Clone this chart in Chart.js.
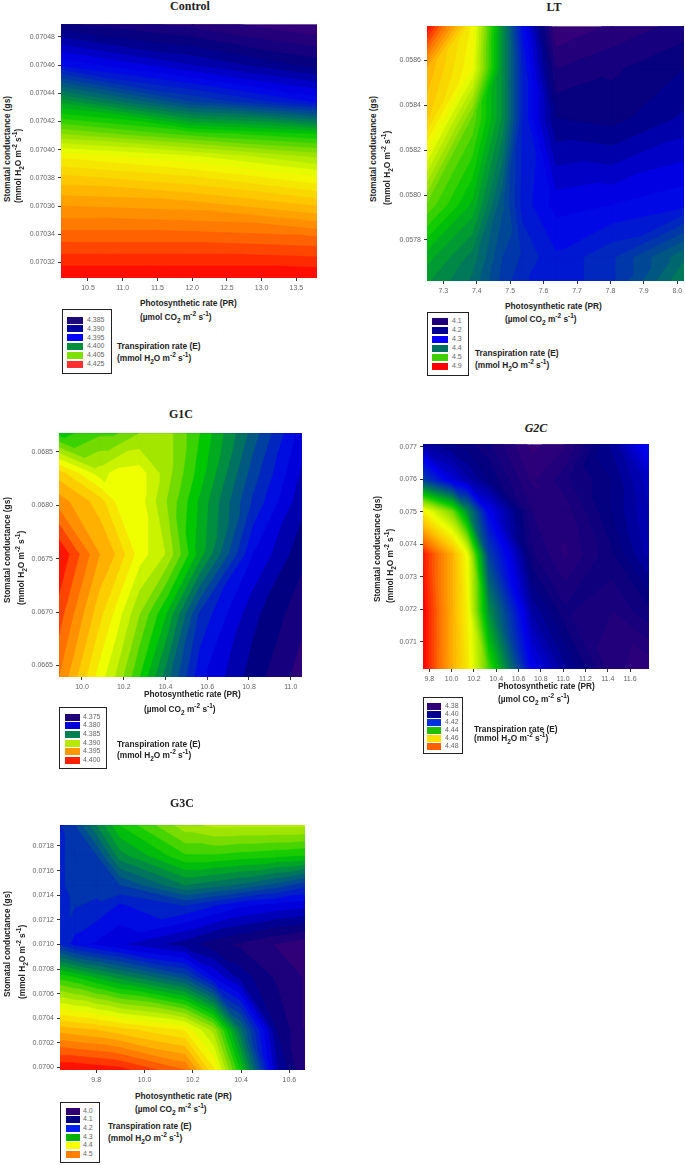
<!DOCTYPE html>
<html>
<head>
<meta charset="utf-8">
<title>Transpiration rate contour plots</title>
<script src="https://cdn.jsdelivr.net/npm/chart.js@4/dist/chart.umd.min.js"></script>
<style>
  html, body { margin: 0; padding: 0; background: #fff; }
  #page { position: relative; width: 685px; height: 1165px; overflow: hidden; font-family: "Liberation Sans", Arial, sans-serif; }
  canvas { position: absolute; }
  .title { position: absolute; font: bold 12px "Liberation Serif", serif; color: #222; transform: translate(-50%, -50%); white-space: nowrap; }
  .axis { position: absolute; font-size: 8.3px; font-weight: bold; line-height: 10px; height: 10px; color: #222; white-space: nowrap; }
  .axis.rot { transform-origin: left top; transform: rotate(-90deg); }
  .axis sup, .axis sub { font-size: 6.5px; line-height: 0; }
  .legend { position: absolute; box-sizing: border-box; border: 1.5px solid #222; background: #fff; }
  .swatch { position: absolute; height: 7px; }
  .lab { position: absolute; font-size: 7px; line-height: 8px; height: 8px; color: #666; white-space: nowrap; }
</style>
</head>
<body>
<div id="page"></div>
<script>
// colour ramp shared by all plots, low to high
const rampColors = ["#3a0078", "#000080", "#0000f0", "#0040a0", "#008050", "#00c800", "#90e000", "#f0ff00", "#ffc000", "#ff7000", "#ff0000"];

// Control
const controlX = [10.112, 12.0, 13.796];
const controlY = [0.070489, 0.07046, 0.070434, 0.070411, 0.070395, 0.070381, 0.07036, 0.070336, 0.070309];
const controlZ = [
  [4.3882, 4.3866, 4.385],
  [4.3938, 4.391, 4.3886],
  [4.4026, 4.397, 4.3938],
  [4.409, 4.4066, 4.405],
  [4.4138, 4.4122, 4.4098],
  [4.4162, 4.415, 4.413],
  [4.419, 4.4186, 4.417],
  [4.4218, 4.4218, 4.4214],
  [4.425, 4.425, 4.425],
];
const controlXTicks = ["10.5", "11.0", "11.5", "12.0", "12.5", "13.0", "13.5"];
const controlYTicks = ["0.07048", "0.07046", "0.07044", "0.07042", "0.07040", "0.07038", "0.07036", "0.07034", "0.07032"];
const controlLegend = ["4.385", "4.390", "4.395", "4.400", "4.405", "4.425"];
const controlLegendColors = ["#1c0a78", "#0000a0", "#0000ff", "#00903c", "#80e000", "#ff3030"];

// LT
const ltX = [7.251, 7.386, 7.476, 7.536, 7.636, 7.805, 8.02];
const ltY = [0.058753, 0.058563, 0.058342, 0.057958, 0.057722, 0.057617];
const ltZ = [
  [4.9, 4.676, 4.436, 4.276, 4.1, 4.124, 4.148],
  [4.756, 4.66, 4.436, 4.3, 4.14, 4.156, 4.18],
  [4.724, 4.556, 4.436, 4.3, 4.18, 4.172, 4.204],
  [4.556, 4.476, 4.364, 4.292, 4.252, 4.26, 4.276],
  [4.468, 4.412, 4.34, 4.316, 4.284, 4.316, 4.396],
  [4.444, 4.396, 4.332, 4.304, 4.284, 4.316, 4.42],
];
const ltXTicks = ["7.3", "7.4", "7.5", "7.6", "7.7", "7.8", "7.9", "8.0"];
const ltYTicks = ["0.0586", "0.0584", "0.0582", "0.0580", "0.0578"];
const ltLegend = ["4.1", "4.2", "4.3", "4.4", "4.5", "4.9"];
const ltLegendColors = ["#200078", "#000090", "#0000ff", "#007060", "#40d000", "#ff0000"];

// G1C
const g1cX = [9.89, 10.085, 10.157, 10.276, 10.404, 10.564, 10.819, 11.054];
const g1cY = [0.068676, 0.068299, 0.068036, 0.067542, 0.066985, 0.066392];
const g1cZ = [
  [4.3875, 4.3888, 4.3888, 4.39, 4.3905, 4.388, 4.3835, 4.3795],
  [4.3945, 4.3915, 4.3923, 4.3925, 4.3905, 4.3875, 4.3825, 4.3788],
  [4.3965, 4.3945, 4.393, 4.3925, 4.39, 4.3868, 4.3818, 4.3783],
  [4.4, 4.396, 4.395, 4.3925, 4.3909, 4.3865, 4.38, 4.3773],
  [4.3985, 4.3943, 4.3928, 4.39, 4.387, 4.3818, 4.3783, 4.3763],
  [4.397, 4.3925, 4.391, 4.388, 4.3845, 4.3803, 4.3775, 4.3755],
];
const g1cXTicks = ["10.0", "10.2", "10.4", "10.6", "10.8", "11.0"];
const g1cYTicks = ["0.0685", "0.0680", "0.0675", "0.0670", "0.0665"];
const g1cLegend = ["4.375", "4.380", "4.385", "4.390", "4.395", "4.400"];
const g1cLegendColors = ["#200078", "#0000d8", "#008050", "#b8e800", "#ff9800", "#ff2000"];

// G2C
const g2cX = [9.743, 10.003, 10.137, 10.331, 10.719, 11.018, 11.436, 11.77];
const g2cY = [0.077081, 0.075982, 0.075014, 0.07369, 0.071959, 0.070157];
const g2cZ = [
  [4.3956, 4.392, 4.3908, 4.3884, 4.3812, 4.3836, 4.3944, 4.4064],
  [4.416, 4.4016, 4.3968, 4.392, 4.3836, 4.3872, 4.392, 4.3992],
  [4.4664, 4.4496, 4.4304, 4.404, 4.386, 4.3848, 4.392, 4.398],
  [4.4976, 4.4784, 4.464, 4.416, 4.3884, 4.3836, 4.3896, 4.3968],
  [4.5, 4.4784, 4.4664, 4.4304, 4.3956, 4.3884, 4.386, 4.3896],
  [4.5, 4.4784, 4.4688, 4.446, 4.404, 4.3944, 4.3848, 4.3824],
];
const g2cXTicks = ["9.8", "10.0", "10.2", "10.4", "10.6", "10.8", "11.0", "11.2", "11.4", "11.6"];
const g2cYTicks = ["0.077", "0.076", "0.075", "0.074", "0.073", "0.072", "0.071"];
const g2cLegend = ["4.38", "4.40", "4.42", "4.44", "4.46", "4.48"];
const g2cLegendColors = ["#300078", "#000090", "#0030e0", "#20c000", "#ffe000", "#ff6000"];

// G3C
const g3cX = [9.65, 9.713, 9.803, 9.899, 10.168, 10.286, 10.396, 10.548, 10.665];
const g3cY = [0.071969, 0.071725, 0.071483, 0.071323, 0.071001, 0.070732, 0.070303, 0.069979];
const g3cZ = [
  [4.156, 4.18, 4.24, 4.3, 4.372, 4.384, 4.384, 4.384, 4.384],
  [4.156, 4.168, 4.18, 4.252, 4.318, 4.318, 4.312, 4.306, 4.3],
  [4.156, 4.168, 4.168, 4.18, 4.24, 4.228, 4.216, 4.192, 4.168],
  [4.156, 4.162, 4.156, 4.138, 4.162, 4.144, 4.126, 4.114, 4.108],
  [4.156, 4.132, 4.117, 4.102, 4.069, 4.048, 4.036, 4.018, 4.006],
  [4.312, 4.3, 4.276, 4.252, 4.192, 4.12, 4.072, 4.036, 4.018],
  [4.492, 4.486, 4.48, 4.468, 4.438, 4.372, 4.228, 4.06, 4.018],
  [4.6, 4.6, 4.594, 4.588, 4.54, 4.444, 4.3, 4.084, 4.018],
];
const g3cXTicks = ["9.8", "10.0", "10.2", "10.4", "10.6"];
const g3cYTicks = ["0.0718", "0.0716", "0.0714", "0.0712", "0.0710", "0.0708", "0.0706", "0.0704", "0.0702", "0.0700"];
const g3cLegend = ["4.0", "4.1", "4.2", "4.3", "4.4", "4.5"];
const g3cLegendColors = ["#300070", "#000080", "#0020f0", "#00b000", "#ffff00", "#ff8000"];

const panels = [
  {
    title: "Control", xs: controlX, ys: controlY, zs: controlZ, xTicks: controlXTicks, yTicks: controlYTicks,
    legend: controlLegend, legendColors: controlLegendColors, zLow: 4.385, zHigh: 4.425, bands: 40,
    plot: { l: 61.3, t: 22.3, r: 317.7, b: 278.3 }, xMin: 10.112, xMax: 13.796, yMin: 0.070309, yMax: 0.070489,
    titlePos: [190, 6], yTitle: [[7, 202], [18, 203]], xTitle: [140, 298, 312],
    box: { l: 62, t: 309, r: 112, b: 374, sw: 67, sww: 16, lab: 87, rows: [320, 328.5, 337.5, 346, 355, 364] },
    legendTitle: [117, 341, 353],
  },
  {
    title: "LT", xs: ltX, ys: ltY, zs: ltZ, xTicks: ltXTicks, yTicks: ltYTicks,
    legend: ltLegend, legendColors: ltLegendColors, zLow: 4.1, zHigh: 4.9, bands: 40,
    plot: { l: 426.7, t: 23.7, r: 683.3, b: 280.3 }, xMin: 7.251, xMax: 8.02, yMin: 0.057617, yMax: 0.058753,
    titlePos: [554, 7], yTitle: [[373, 202], [387, 205]], xTitle: [505, 301, 314],
    box: { l: 427, t: 312, r: 469, b: 376, sw: 432, sww: 16, lab: 452, rows: [321, 330, 339, 348, 357, 366] },
    legendTitle: [475, 348, 360],
  },
  {
    title: "G1C", xs: g1cX, ys: g1cY, zs: g1cZ, xTicks: g1cXTicks, yTicks: g1cYTicks,
    legend: g1cLegend, legendColors: g1cLegendColors, zLow: 4.375, zHigh: 4.4, bands: 25,
    plot: { l: 59.3, t: 431, r: 302.3, b: 677.3 }, xMin: 9.89, xMax: 11.054, yMin: 0.066392, yMax: 0.068676,
    titlePos: [181, 414], yTitle: [[7, 603], [21, 605]], xTitle: [144, 689, 704],
    box: { l: 59, t: 707, r: 107, b: 769, sw: 65, sww: 15, lab: 83, rows: [717, 725, 734, 743, 751, 760] },
    legendTitle: [117, 739, 750],
  },
  {
    title: "G2C", italic: true, xs: g2cX, ys: g2cY, zs: g2cZ, xTicks: g2cXTicks, yTicks: g2cYTicks,
    legend: g2cLegend, legendColors: g2cLegendColors, zLow: 4.38, zHigh: 4.5, bands: 60,
    plot: { l: 422.7, t: 442.3, r: 649, b: 669 }, xMin: 9.743, xMax: 11.77, yMin: 0.070157, yMax: 0.077081,
    titlePos: [536, 428], yTitle: [[377, 602], [390, 603]], xTitle: [498, 681, 694],
    box: { l: 423, t: 697, r: 463, b: 754, sw: 427, sww: 14, lab: 445, rows: [706, 714, 722, 730, 738, 746] },
    legendTitle: [474, 724, 733],
  },
  {
    title: "G3C", xs: g3cX, ys: g3cY, zs: g3cZ, xTicks: g3cXTicks, yTicks: g3cYTicks,
    legend: g3cLegend, legendColors: g3cLegendColors, zLow: 4.0, zHigh: 4.6, bands: 30,
    plot: { l: 59.7, t: 823, r: 305, b: 1070.3 }, xMin: 9.65, xMax: 10.665, yMin: 0.069979, yMax: 0.071969,
    titlePos: [182, 803], yTitle: [[7, 997], [22, 999]], xTitle: [135, 1091, 1104],
    box: { l: 60, t: 1102, r: 100, b: 1163, sw: 66, sww: 14, lab: 83, rows: [1111, 1119, 1128, 1137, 1145, 1154] },
    legendTitle: [108, 1121, 1133],
  },
];

const page = document.getElementById("page");

function hexToRgb(hex) {
  return [1, 3, 5].map((i) => parseInt(hex.substr(i, 2), 16));
}

function rampColor(t) {
  const pos = Math.min(Math.max(t, 0), 1) * (rampColors.length - 1);
  const i = Math.min(Math.floor(pos), rampColors.length - 2);
  const a = hexToRgb(rampColors[i]);
  const b = hexToRgb(rampColors[i + 1]);
  const c = a.map((v, k) => Math.round(v + (b[k] - v) * (pos - i)));
  return "rgb(" + c.join(",") + ")";
}

// keep the part of a polygon where z >= level
function clipPoly(poly, level) {
  const out = [];
  for (let i = 0; i < poly.length; i++) {
    const p = poly[i];
    const q = poly[(i + 1) % poly.length];
    const dp = p.z - level;
    const dq = q.z - level;
    if (dp >= 0) out.push(p);
    if (dp >= 0 !== dq >= 0) {
      const f = dp / (dp - dq);
      out.push({ x: p.x + (q.x - p.x) * f, y: p.y + (q.y - p.y) * f, z: level });
    }
  }
  return out;
}

// filled contour bands, drawn from the grid through the chart's scales.
// each band paints everything at or above its level, the next one paints over it
const contourPlugin = {
  id: "contour",
  beforeDatasetsDraw(chart, args, opts) {
    const { ctx, chartArea, scales } = chart;
    const p = opts.panel;
    const step = (p.zHigh - p.zLow) / p.bands;
    const px = p.xs.map((v) => scales.x.getPixelForValue(v));
    const py = p.ys.map((v) => scales.y.getPixelForValue(v));

    const tris = [];
    for (let r = 0; r < p.ys.length - 1; r++) {
      for (let c = 0; c < p.xs.length - 1; c++) {
        const a = { x: px[c], y: py[r], z: p.zs[r][c] };
        const b = { x: px[c + 1], y: py[r], z: p.zs[r][c + 1] };
        const d = { x: px[c + 1], y: py[r + 1], z: p.zs[r + 1][c + 1] };
        const e = { x: px[c], y: py[r + 1], z: p.zs[r + 1][c] };
        // split each cell along the diagonal with the smaller change in z
        if (Math.abs(a.z - d.z) <= Math.abs(b.z - e.z)) tris.push([a, b, d], [a, d, e]);
        else tris.push([a, b, e], [b, d, e]);
      }
    }

    ctx.save();
    ctx.beginPath();
    ctx.rect(chartArea.left, chartArea.top, chartArea.width, chartArea.height);
    ctx.clip();
    ctx.lineWidth = 0.5;
    for (let i = 0; i < p.bands; i++) {
      const level = i === 0 ? -Infinity : p.zLow + i * step;
      const color = rampColor((i + 0.5) / p.bands);
      ctx.fillStyle = color;
      ctx.strokeStyle = color;
      ctx.beginPath();
      tris.forEach((tri) => {
        const poly = i === 0 ? tri : clipPoly(tri, level);
        if (poly.length < 3) return;
        poly.forEach((v, k) => (k ? ctx.lineTo(v.x, v.y) : ctx.moveTo(v.x, v.y)));
        ctx.closePath();
      });
      ctx.fill();
      ctx.stroke();
    }
    ctx.restore();
  },
};

function addDiv(cls, html, left, top) {
  const d = document.createElement("div");
  d.className = cls;
  d.innerHTML = html;
  d.style.left = left + "px";
  d.style.top = top + "px";
  page.appendChild(d);
  return d;
}

function drawPanel(p) {
  const marginL = 45;
  const marginT = 5;
  const marginR = 8;
  const marginB = 20;
  const w = Math.round(p.plot.r - p.plot.l);
  const h = Math.round(p.plot.b - p.plot.t);

  const canvas = document.createElement("canvas");
  canvas.width = marginL + w + marginR;
  canvas.height = marginT + h + marginB;
  canvas.style.left = p.plot.l - marginL + "px";
  canvas.style.top = p.plot.t - marginT + "px";
  page.appendChild(canvas);

  const nodes = [];
  p.ys.forEach((y, i) => p.xs.forEach((x, j) => nodes.push({ x: x, y: y, z: p.zs[i][j] })));

  const tickFont = { family: "'Liberation Sans', Arial, sans-serif", size: 7 };

  new Chart(canvas.getContext("2d"), {
    type: "scatter",
    data: { datasets: [{ label: "Transpiration rate (E)", data: nodes, pointRadius: 0, showLine: false }] },
    options: {
      responsive: false,
      animation: false,
      layout: { padding: { top: marginT, right: marginR, left: 0, bottom: 0 } },
      plugins: { legend: { display: false }, tooltip: { enabled: false }, contour: { panel: p } },
      scales: {
        x: {
          type: "linear",
          min: p.xMin,
          max: p.xMax,
          afterBuildTicks: (s) => { s.ticks = p.xTicks.map((v) => ({ value: Number(v) })); },
          afterFit: (s) => { s.height = marginB; },
          ticks: {
            autoSkip: false, maxRotation: 0, minRotation: 0, padding: 3, color: "#666", font: tickFont,
            callback: (v) => p.xTicks.find((t) => Number(t) === v),
          },
          grid: { drawOnChartArea: false, color: "#333", tickLength: 3 },
          border: { display: false },
        },
        y: {
          type: "linear",
          min: p.yMin,
          max: p.yMax,
          afterBuildTicks: (s) => { s.ticks = p.yTicks.map((v) => ({ value: Number(v) })); },
          afterFit: (s) => { s.width = marginL; },
          ticks: {
            autoSkip: false, padding: 3, color: "#666", font: tickFont,
            callback: (v) => p.yTicks.find((t) => Number(t) === v),
          },
          grid: { drawOnChartArea: false, color: "#333", tickLength: 3 },
          border: { display: false },
        },
      },
    },
    plugins: [contourPlugin],
  });

  // titles and axis captions
  const t = addDiv("title", p.title, p.titlePos[0], p.titlePos[1]);
  if (p.italic) t.style.fontStyle = "italic";
  addDiv("axis rot", "Stomatal conductance (gs)", p.yTitle[0][0] - 5, p.yTitle[0][1]);
  addDiv("axis rot", "(mmol H<sub>2</sub>O m<sup>-2</sup> s<sup>-1</sup>)", p.yTitle[1][0] - 5, p.yTitle[1][1]);
  addDiv("axis", "Photosynthetic rate (PR)", p.xTitle[0], p.xTitle[1]);
  addDiv("axis", "(µmol CO<sub>2</sub> m<sup>-2</sup> s<sup>-1</sup>)", p.xTitle[0], p.xTitle[2]);

  // legend box
  const box = addDiv("legend", "", p.box.l, p.box.t);
  box.style.width = p.box.r - p.box.l + "px";
  box.style.height = p.box.b - p.box.t + "px";
  p.legend.forEach((label, i) => {
    const s = addDiv("swatch", "", p.box.sw, p.box.rows[i] - 3.5);
    s.style.width = p.box.sww + "px";
    s.style.background = p.legendColors[i];
    addDiv("lab", label, p.box.lab, p.box.rows[i] - 4);
  });
  addDiv("axis", "Transpiration rate (E)", p.legendTitle[0], p.legendTitle[1]);
  addDiv("axis", "(mmol H<sub>2</sub>O m<sup>-2</sup> s<sup>-1</sup>)", p.legendTitle[0], p.legendTitle[2]);
}

panels.forEach(drawPanel);
</script>
</body>
</html>
